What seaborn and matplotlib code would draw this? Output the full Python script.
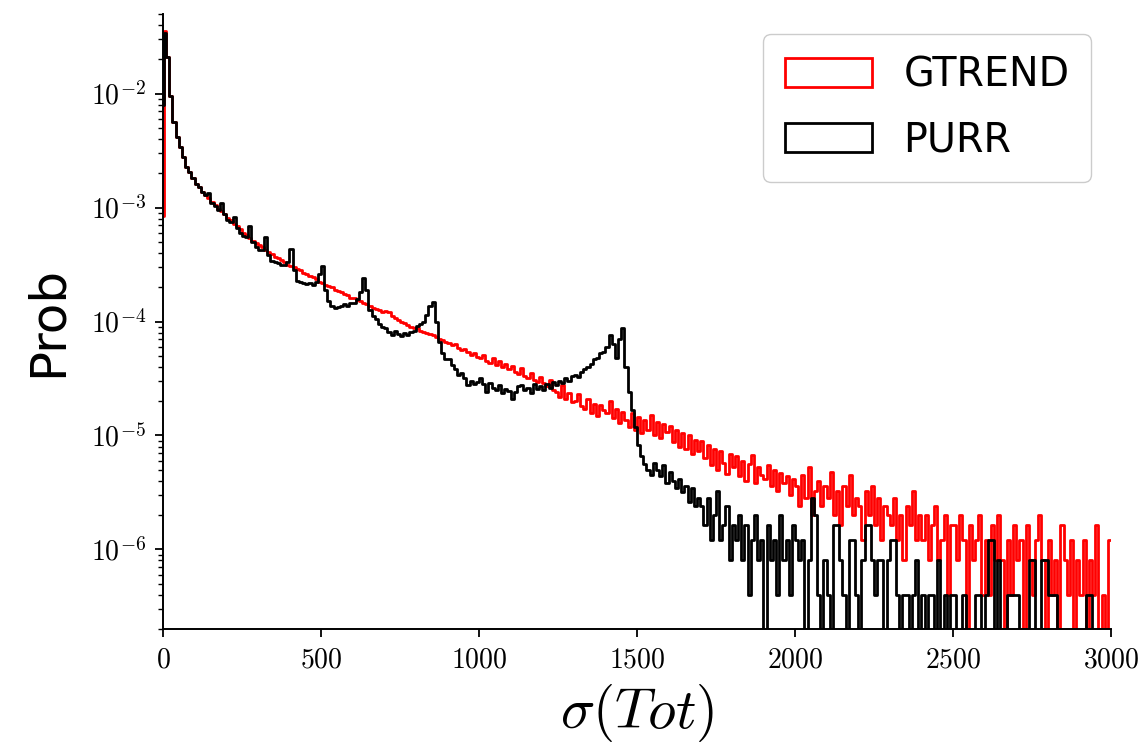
import numpy as np
import pandas as pd
import seaborn as sns
import matplotlib
matplotlib.use("Agg")
import matplotlib.pyplot as plt
from matplotlib.patches import Patch
from matplotlib.ticker import FuncFormatter, LogLocator, FixedLocator, NullFormatter

# ---------------- data ----------------
# bin edges of the histogram (sigma(Tot))
bin_edges = [0, 4] + list(range(10, 3001, 10))

series_names = ["GTREND", "PURR"]
series_colors = ["red", "black"]

# log10(probability) per bin ; None = empty bin
gtrend_log10 = [
    -3.07, -1.45,
    -1.68, -2.02, -2.25, -2.38, -2.47, -2.56, -2.64, -2.69, -2.74,
    -2.79, -2.82, -2.86, -2.89, -2.92, -2.95, -2.98, -3.01, -3.03, -3.06,
    -3.09, -3.11, -3.14, -3.16, -3.19, -3.22, -3.24, -3.27, -3.29, -3.31,
    -3.33, -3.35, -3.37, -3.39, -3.41, -3.43, -3.44, -3.46, -3.48, -3.50,
    -3.51, -3.52, -3.54, -3.55, -3.57, -3.58, -3.60, -3.61, -3.63, -3.65,
    -3.66, -3.68, -3.69, -3.70, -3.72, -3.73, -3.74, -3.76, -3.77, -3.79,
    -3.79, -3.81, -3.82, -3.84, -3.85, -3.86, -3.88, -3.89, -3.90, -3.92,
    -3.91, -3.92, -3.95, -3.97, -3.99, -4.00, -4.01, -4.03, -4.05, -4.06,
    -4.06, -4.08, -4.09, -4.10, -4.11, -4.12, -4.14, -4.15, -4.16, -4.18,
    -4.19, -4.21, -4.20, -4.23, -4.25, -4.24, -4.27, -4.29, -4.28, -4.31,
    -4.32, -4.29, -4.35, -4.36, -4.32, -4.38, -4.35, -4.40, -4.37, -4.42,
    -4.39, -4.44, -4.46, -4.41, -4.48, -4.50, -4.45, -4.51, -4.53, -4.49,
    -4.54, -4.57, -4.51, -4.60, -4.62, -4.66, -4.56, -4.68, -4.63, -4.71,
    -4.70, -4.64, -4.74, -4.77, -4.68, -4.80, -4.72, -4.83, -4.73, -4.78,
    -4.80, -4.70, -4.85, -4.77, -4.89, -4.79, -4.86, -4.93, -4.80, -4.95,
    -4.84, -4.98, -4.86, -4.95, -4.82, -5.00, -4.88, -5.02, -4.90, -4.97,
    -4.92, -5.06, -4.95, -5.10, -4.98, -5.12, -5.00, -5.16, -5.04, -5.14,
    -5.05, -5.20, -5.08, -5.26, -5.12, -5.30, -5.14, -5.24, -5.34, -5.16,
    -5.28, -5.18, -5.36, -5.22, -5.40, -5.25, -5.17, -5.42, -5.28, -5.35,
    -5.38, -5.26, -5.44, -5.30, -5.49, -5.33, -5.42, -5.36, -5.52, -5.38,
    -5.44, -5.62, -5.35, -5.55, -5.28, -5.70, -5.49, -5.40, -5.62, -5.44,
    -5.55, -5.32, -5.70, -5.49, -5.79, -5.44, -5.62, -5.35, -5.70, -5.55,
    -5.62, -5.92, -5.49, -5.70, -5.44, -5.79, -5.55, -5.92, -5.62, -5.70,
    -5.79, -5.55, -5.92, -5.70, -6.09, -5.62, -5.79, -5.49, -5.92, -5.70,
    -5.92, -5.70, -6.09, -5.79, -5.62, -6.09, -5.92, -5.70, -6.40, -5.79,
    -5.79, -6.09, -5.70, -5.92, None, -5.79, -6.09, -5.92, -5.70, -6.40,
    -5.92, -6.40, -5.79, -6.09, -5.70, -6.09, None, -5.92, -6.40, -5.79,
    -6.09, -5.92, None, -5.79, -6.09, -6.40, -5.92, -5.70, -6.09, None,
    -5.92, -6.40, -6.09, None, -5.79, -6.09, -6.40, -5.92, None, -6.09,
    -6.40, -5.92, None, -6.09, -6.40, -5.79, None, -6.40, None, -5.92,
]

purr_log10 = [
    -2.10, -1.47,
    -1.68, -2.02, -2.25, -2.38, -2.47, -2.56, -2.64, -2.69, -2.74,
    -2.79, -2.82, -2.86, -2.89, -2.87, -2.96, -2.99, -3.02, -2.96, -3.06,
    -3.11, -3.13, -3.08, -3.18, -3.22, -3.25, -3.26, -3.16, -3.30, -3.35,
    -3.37, -3.37, -3.26, -3.42, -3.47, -3.48, -3.49, -3.50, -3.50, -3.48,
    -3.36, -3.55, -3.64, -3.65, -3.66, -3.67, -3.66, -3.68, -3.65, -3.58,
    -3.51, -3.72, -3.82, -3.86, -3.88, -3.87, -3.86, -3.85, -3.86, -3.84,
    -3.84, -3.80, -3.74, -3.62, -3.72, -3.90, -3.95, -3.98, -4.02, -4.05,
    -4.06, -4.09, -4.12, -4.08, -4.11, -4.13, -4.10, -4.12, -4.09, -4.08,
    -4.04, -4.02, -4.00, -3.94, -3.86, -3.83, -4.00, -4.18, -4.28, -4.33,
    -4.33, -4.38, -4.42, -4.47, -4.45, -4.50, -4.56, -4.52, -4.55, -4.53,
    -4.50, -4.55, -4.62, -4.54, -4.58, -4.60, -4.56, -4.63, -4.59, -4.61,
    -4.68, -4.62, -4.57, -4.56, -4.60, -4.58, -4.63, -4.55, -4.59, -4.57,
    -4.60, -4.55, -4.58, -4.53, -4.56, -4.52, -4.54, -4.50, -4.52, -4.48,
    -4.47, -4.49, -4.44, -4.42, -4.40, -4.37, -4.33, -4.32, -4.28, -4.27,
    -4.22, -4.12, -4.20, -4.32, -4.15, -4.06, -4.40, -4.62, -4.78, -4.93,
    -5.08, -5.18, -5.25, -5.30, -5.35, -5.24, -5.30, -5.36, -5.26, -5.42,
    -5.32, -5.40, -5.46, -5.38, -5.50, -5.44, -5.58, -5.46, -5.62, -5.55,
    -5.62, -5.79, -5.55, -5.92, -5.70, -5.49, -5.92, -5.79, -5.62, -6.09,
    -5.79, -5.92, -5.70, -6.09, -5.79, -6.40, -5.92, -5.70, -6.09, -5.92,
    None, -5.79, -6.09, -5.92, -6.40, -5.70, -6.09, -5.92, -6.40, -5.79,
    -5.92, -6.09, -5.92, None, -6.09, -5.55, -5.70, -6.40, None, -6.09,
    -6.40, None, -5.79, -5.79, -6.09, -6.40, None, -5.92, -5.92, -6.40,
    None, -6.09, -5.79, -5.79, -6.09, -6.40, -6.09, -6.09, None, -6.09,
    -5.92, -5.92, -6.40, None, -6.40, -6.40, None, -6.40, -6.09, None,
    -6.40, None, -6.40, -6.40, None, -6.09, None, -6.40, None, -6.40,
    -6.40, None, None, -6.40, None, None, None, -6.40, -6.40, None,
    -6.40, -5.92, -5.92, None, -6.09, None, None, -6.40, -6.40, -6.40,
    -6.40, None, None, None, -6.09, -6.09, None, None, -6.09, -6.09,
    -6.40, -6.40, -6.40, None, None, None, None, None, None, None,
    None, None, -6.40, -6.40, None, None, None, None, None, None,
]

x_ticks = [0, 500, 1000, 1500, 2000, 2500, 3000]
y_limits = (2.0e-7, 5.0e-2)

# ---------------- build ----------------
edges = [float(e) for e in bin_edges]
centers = [0.5 * (a + b) for a, b in zip(edges[:-1], edges[1:])]


def to_prob(vals):
    return [0.0 if v is None else 10.0 ** v for v in vals]


assert len(gtrend_log10) == len(centers) and len(purr_log10) == len(centers)

df = pd.DataFrame({
    "sigma": centers + centers,
    "prob": to_prob(gtrend_log10) + to_prob(purr_log10),
    "model": [series_names[0]] * len(centers) + [series_names[1]] * len(centers),
})

sns.set_theme(style="ticks")
plt.rcParams["font.family"] = ["DejaVu Sans"]
plt.rcParams["mathtext.fontset"] = "cm"
plt.rcParams["text.color"] = "black"
plt.rcParams["axes.labelcolor"] = "black"
plt.rcParams["xtick.color"] = "black"
plt.rcParams["ytick.color"] = "black"

fig = plt.figure(figsize=(11.43, 7.43), dpi=100)
ax = fig.add_axes([0.1426, 0.1534, 0.8294, 0.8277])

LW = 2.0
for name, col in zip(series_names, series_colors):
    sub = df[df["model"] == name].reset_index(drop=True)
    sns.histplot(data=sub, x="sigma", weights="prob", bins=edges,
                 element="step", fill=False, color=col, linewidth=LW, ax=ax)

ax.set_yscale("log")
ax.set_xlim(0, 3000)
ax.set_ylim(*y_limits)

ax.xaxis.set_major_locator(FixedLocator(x_ticks))
ax.xaxis.set_major_formatter(FuncFormatter(lambda v, p: f"${int(v)}$"))
ax.yaxis.set_major_locator(LogLocator(base=10, numticks=20))
ax.yaxis.set_minor_locator(LogLocator(base=10, subs=np.arange(2, 10), numticks=50))
ax.yaxis.set_major_formatter(FuncFormatter(lambda v, p: f"$10^{{{int(round(np.log10(v)))}}}$"))
ax.yaxis.set_minor_formatter(NullFormatter())

ax.tick_params(axis="both", which="major", direction="out", length=6, width=1.3,
               colors="black", labelsize=20, pad=6)
ax.tick_params(axis="y", which="minor", direction="out", length=3.5, width=1.0, colors="black")

for s in ["top", "right"]:
    ax.spines[s].set_visible(False)
for s in ["left", "bottom"]:
    ax.spines[s].set_linewidth(1.4)
    ax.spines[s].set_color("black")

ax.set_xlabel(r"$\sigma(Tot)$", fontsize=41, labelpad=6, color="black")
ax.set_ylabel("Prob", fontsize=36, labelpad=14, color="black")

handles = [Patch(facecolor="none", edgecolor=c, linewidth=LW) for c in series_colors]
leg = ax.legend(handles=handles, labels=series_names, loc="upper right", fontsize=28.5,
                frameon=True, fancybox=True, framealpha=1.0, edgecolor="0.8",
                handlelength=2.2, handleheight=0.75, handletextpad=0.8,
                borderpad=0.55, labelspacing=0.62)
for t in leg.get_texts():
    t.set_color("black")

fig.savefig("out.png", dpi=100)
